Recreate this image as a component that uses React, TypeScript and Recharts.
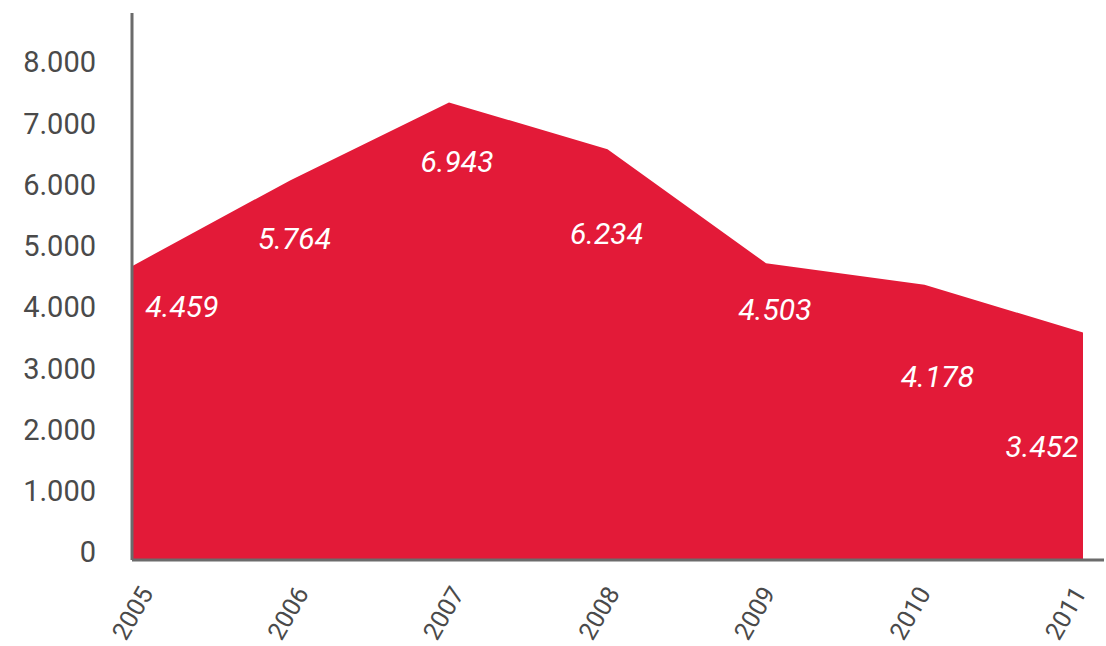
import { Area, AreaChart, LabelList, XAxis, YAxis } from 'recharts';

const years = ['2005', '2006', '2007', '2008', '2009', '2010', '2011'];
const visits = [4459, 5764, 6943, 6234, 4503, 4178, 3452];
const visitLabels = ['4.459', '5.764', '6.943', '6.234', '4.503', '4.178', '3.452'];
const yTicks = [0, 1000, 2000, 3000, 4000, 5000, 6000, 7000, 8000];

const data = years.map((year, i) => ({ year, visits: visits[i], label: visitLabels[i] }));

const RED = '#e31a38';
const AXIS = '#6b6b6b';
const TEXT = '#4a4a4a';
const FONT = 'Roboto, "Open Sans", sans-serif';

// hand-placed label offsets from each point, as in the original layout
const labelOffsets: [number, number][] = [
  [50, 40],
  [4, 58],
  [8, 59],
  [-1, 84],
  [9, 46],
  [13, 92],
  [-41, 114],
];

function formatTick(v: number) {
  return v === 0 ? '0' : (v / 1000).toFixed(3);
}

function ValueLabel(props: any) {
  const { x, y, index, value } = props;
  const [dx, dy] = labelOffsets[index] ?? [0, 40];
  return (
    <text
      x={x + dx}
      y={y + dy}
      textAnchor="middle"
      dominantBaseline="central"
      fill="#ffffff"
      fontStyle="italic"
      fontSize={30}
      fontFamily={FONT}
    >
      {value}
    </text>
  );
}

function YearTick(props: any) {
  const { x, index, payload } = props;
  const ax = x + 22 - index * 3;
  const ay = 593;
  return (
    <text
      x={ax}
      y={ay}
      textAnchor="end"
      fill={TEXT}
      fontSize={25}
      fontFamily={FONT}
      transform={`rotate(-60 ${ax} ${ay})`}
    >
      {payload.value}
    </text>
  );
}

export default function App() {
  return (
    <div style={{ width: 1106, height: 646 }}>
      <style>{'body{margin:0}'}</style>
      <AreaChart
        width={1106}
        height={646}
        data={data}
        margin={{ top: 13, right: 2, left: 0, bottom: 0 }}
      >
        <XAxis
          dataKey="year"
          height={86}
          padding={{ left: 0, right: 21 }}
          axisLine={{ stroke: AXIS, strokeWidth: 3 }}
          tickLine={false}
          tick={<YearTick />}
          interval={0}
        />
        <YAxis
          yAxisId="ticks"
          width={132}
          domain={[-130, 8800]}
          allowDataOverflow
          ticks={yTicks}
          tickFormatter={formatTick}
          axisLine={{ stroke: AXIS, strokeWidth: 3 }}
          tickLine={false}
          tickSize={6}
          tickMargin={30}
          tick={{ fill: TEXT, fontSize: 29, fontFamily: FONT }}
        />
        <YAxis yAxisId="area" hide width={0} domain={[0, 8300]} allowDataOverflow />
        <Area
          yAxisId="area"
          type="linear"
          dataKey="visits"
          stroke="none"
          fill={RED}
          fillOpacity={1}
          isAnimationActive={false}
        >
          <LabelList dataKey="label" content={<ValueLabel />} />
        </Area>
      </AreaChart>
    </div>
  );
}
